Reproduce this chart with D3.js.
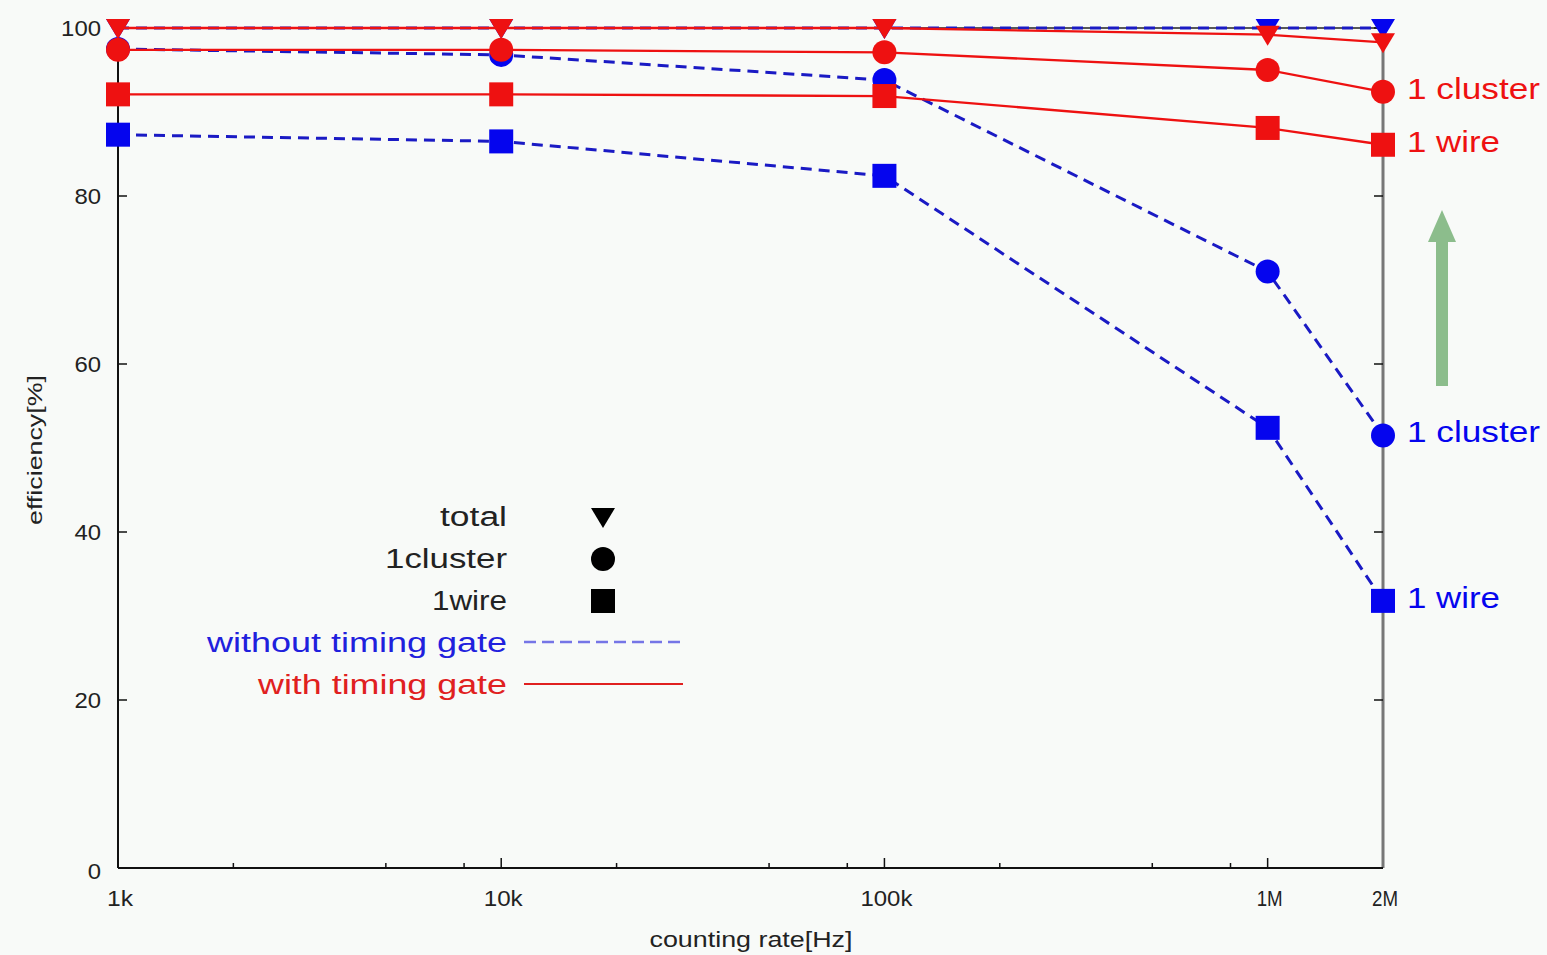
<!DOCTYPE html>
<html>
<head>
<meta charset="utf-8">
<script src="https://cdn.jsdelivr.net/npm/d3@7"></script>
<style>
  html, body { margin: 0; padding: 0; background: #f8faf8; }
  svg { display: block; font-family: "Liberation Sans", Arial, sans-serif; }
</style>
</head>
<body>
<div id="chart"></div>
<script>
// counting rate [Hz]
const rates = [1e3, 1e4, 1e5, 1e6, 2e6];

// without timing gate (blue, dashed)
const noGateTotal = [100, 100, 100, 100, 100];
const noGateCluster = [97.5, 96.8, 93.8, 71.0, 51.5];
const noGateWire = [87.3, 86.5, 82.4, 52.4, 31.8];

// with timing gate (red, solid)
const gateTotal = [100, 100, 100, 99.2, 98.3];
const gateCluster = [97.4, 97.4, 97.1, 95.0, 92.4];
const gateWire = [92.1, 92.1, 91.9, 88.1, 86.1];

const yTicks = [0, 20, 40, 60, 80, 100];
const xTicks = [1e3, 1e4, 1e5, 1e6, 2e6];
const xTickLabels = ["1k", "10k", "100k", "1M", "2M"];
const minorTicks = [2e3, 5e3, 8e3, 2e4, 5e4, 8e4, 2e5, 5e5, 8e5];

const legendNames = ["total", "1cluster", "1wire"];
const legendSymbols = ["tri", "circle", "square"];

const width = 1547, height = 955;
const blue = "#0505ee", blueLine = "#1a1ac4", red = "#ee1111";

const svg = d3.select("#chart").append("svg")
    .attr("width", width)
    .attr("height", height);

const x = d3.scaleLog().domain([1e3, 2e6]).range([118, 1383]);
const y = d3.scaleLinear().domain([0, 100]).range([868, 28]);

// stretched text helper (original fonts are wide)
function label(g, txt, px, py, size, len, anchor, color) {
    return g.append("text")
        .attr("x", px).attr("y", py)
        .attr("font-size", size)
        .attr("text-anchor", anchor)
        .attr("dominant-baseline", "central")
        .attr("textLength", len)
        .attr("lengthAdjust", "spacingAndGlyphs")
        .attr("fill", color)
        .text(txt);
}

// axes frame
const axes = svg.append("g");
axes.append("line").attr("x1", x(1e3)).attr("x2", x(2e6)).attr("y1", y(100)).attr("y2", y(100))
    .attr("stroke", "#222").attr("stroke-width", 1.5);
axes.append("line").attr("x1", x(2e6)).attr("x2", x(2e6)).attr("y1", y(100)).attr("y2", y(0))
    .attr("stroke", "#777").attr("stroke-width", 3);
axes.append("line").attr("x1", x(1e3)).attr("x2", x(1e3)).attr("y1", y(100)).attr("y2", y(0))
    .attr("stroke", "#111").attr("stroke-width", 2);
axes.append("line").attr("x1", x(1e3)).attr("x2", x(2e6)).attr("y1", y(0)).attr("y2", y(0))
    .attr("stroke", "#111").attr("stroke-width", 2);

// y ticks, both sides
yTicks.forEach(v => {
    axes.append("line").attr("x1", x(1e3)).attr("x2", x(1e3) + 9).attr("y1", y(v)).attr("y2", y(v))
        .attr("stroke", "#111").attr("stroke-width", 1.5);
    axes.append("line").attr("x1", x(2e6) - 9).attr("x2", x(2e6)).attr("y1", y(v)).attr("y2", y(v))
        .attr("stroke", "#111").attr("stroke-width", 1.5);
    const s = String(v);
    label(axes, s, 101, y(v) + (v === 0 ? 3 : 0), 22, s.length * 13.3, "end", "#222");
});

// x ticks
xTicks.forEach((v, i) => {
    if (v < 2e6) {
        axes.append("line").attr("x1", x(v)).attr("x2", x(v)).attr("y1", y(0)).attr("y2", y(0) - 10)
            .attr("stroke", "#111").attr("stroke-width", 1.5);
    }
    const s = xTickLabels[i];
    label(axes, s, x(v) + 2, 898, 22, s.length * 13, "middle", "#222");
});
minorTicks.forEach(v => {
    axes.append("line").attr("x1", x(v)).attr("x2", x(v)).attr("y1", y(0)).attr("y2", y(0) - 5)
        .attr("stroke", "#111").attr("stroke-width", 1.5);
});

// axis titles
label(axes, "counting rate[Hz]", 751, 939, 22, 203, "middle", "#222");
label(axes, "efficiency[%]", 0, 0, 21, 150, "middle", "#222")
    .attr("transform", `translate(34,450) rotate(-90)`);

// series
const series = [
    {vals: noGateTotal, color: blue, stroke: blueLine, dash: "11,7", sym: "tri", lw: 3},
    {vals: noGateCluster, color: blue, stroke: blueLine, dash: "11,7", sym: "circle", lw: 3},
    {vals: noGateWire, color: blue, stroke: blueLine, dash: "11,7", sym: "square", lw: 3},
    {vals: gateTotal, color: red, stroke: red, dash: null, sym: "tri", lw: 2.3},
    {vals: gateCluster, color: red, stroke: red, dash: null, sym: "circle", lw: 2.3},
    {vals: gateWire, color: red, stroke: red, dash: null, sym: "square", lw: 2.3}
];

const line = d3.line().x(d => x(d[0])).y(d => y(d[1]));

function drawSymbol(g, sym, cx, cy, color) {
    if (sym === "circle") {
        g.append("circle").attr("cx", cx).attr("cy", cy).attr("r", 12).attr("fill", color);
    } else if (sym === "square") {
        g.append("rect").attr("x", cx - 12).attr("y", cy - 12).attr("width", 24).attr("height", 24).attr("fill", color);
    } else {
        g.append("path").attr("d", `M${cx - 12},${cy - 9}L${cx + 12},${cy - 9}L${cx},${cy + 11}Z`).attr("fill", color);
    }
}

const plot = svg.append("g");
series.forEach(s => {
    const pts = rates.map((r, i) => [r, s.vals[i]]);
    const g = plot.append("g");
    g.append("path").attr("d", line(pts))
        .attr("fill", "none")
        .attr("stroke", s.stroke)
        .attr("stroke-width", s.lw)
        .attr("stroke-dasharray", s.dash);
    pts.forEach(p => drawSymbol(g, s.sym, x(p[0]), y(p[1]), s.color));
});

// right-side labels
const endLabels = [
    {txt: "1 cluster", v: gateCluster[4], color: red, len: 133},
    {txt: "1 wire", v: gateWire[4], color: red, len: 93},
    {txt: "1 cluster", v: noGateCluster[4], color: blue, len: 133},
    {txt: "1 wire", v: noGateWire[4], color: blue, len: 93}
];
endLabels.forEach(d => label(svg, d.txt, x(2e6) + 24, y(d.v) - 3, 29, d.len, "start", d.color));

// green arrow
const arrow = svg.append("g").attr("fill", "#8cbd8c");
arrow.append("rect").attr("x", 1436).attr("y", 238).attr("width", 12).attr("height", 148);
arrow.append("path").attr("d", "M1428,242L1442,210L1456,242Z");

// legend
const leg = svg.append("g");
const legY = [517, 559, 601];
legendNames.forEach((n, i) => {
    const lens = [67, 122, 75];
    label(leg, n, 507, legY[i], 27, lens[i], "end", "#222");
    drawSymbol(leg, legendSymbols[i], 603, legY[i], "#000");
});
label(leg, "without timing gate", 507, 643, 27, 300, "end", "#2020dd");
label(leg, "with timing gate", 507, 685, 27, 249, "end", "#e02020");
leg.append("line").attr("x1", 524).attr("x2", 683).attr("y1", 642).attr("y2", 642)
    .attr("stroke", "#7575e6").attr("stroke-width", 2.5).attr("stroke-dasharray", "12,6");
leg.append("line").attr("x1", 524).attr("x2", 683).attr("y1", 684).attr("y2", 684)
    .attr("stroke", "#e02020").attr("stroke-width", 2);
</script>
</body>
</html>
